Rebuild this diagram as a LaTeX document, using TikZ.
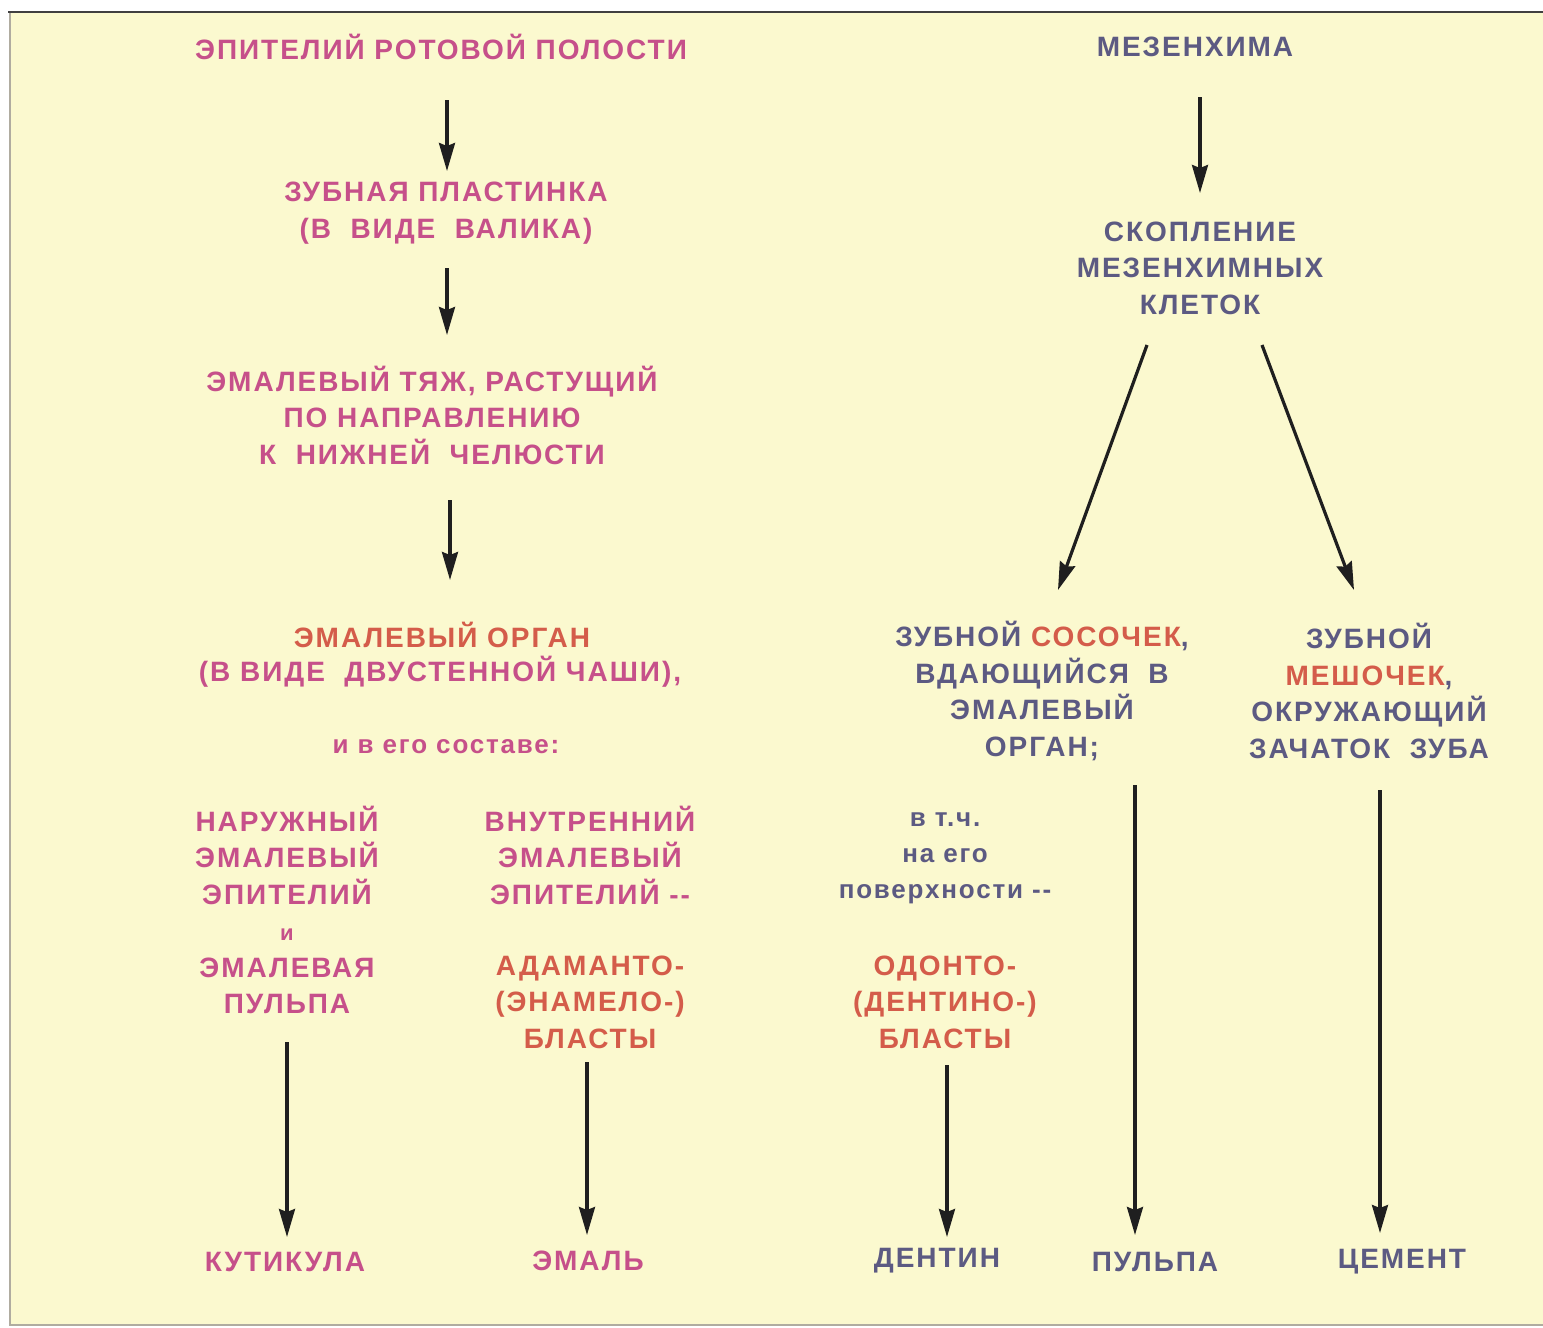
\documentclass[tikz,border=0pt]{standalone}
\usepackage{fontspec}
\setmainfont{Liberation Sans}[LetterSpace=7]
\usetikzlibrary{arrows.meta}
\definecolor{bgyel}{RGB}{251,249,207}
\definecolor{pinktxt}{RGB}{198,80,138}
\definecolor{redtxt}{RGB}{212,92,74}
\definecolor{bluetxt}{RGB}{92,90,130}
\definecolor{framegray}{RGB}{176,172,160}
\tikzset{
  lbl/.style={font=\fontsize{28}{36.5}\selectfont\bfseries, align=center, inner sep=0pt, anchor=center},
  small/.style={font=\fontsize{26}{36}\selectfont\bfseries, align=center, inner sep=0pt, anchor=center},
  pk/.style={text=pinktxt},
  rd/.style={text=redtxt},
  bl/.style={text=bluetxt},
  arr/.style={draw=black!88, line width=3.2pt, -{Stealth[length=28pt,width=16pt,inset=3pt]}}
}
\begin{document}
\begin{tikzpicture}[x=1pt,y=-1pt]
\useasboundingbox (0,0) rectangle (1543,1328);
\fill[white] (0,0) rectangle (1543,1328);
\fill[bgyel] (10,12) rectangle (1543,1325);
\draw[framegray, line width=2pt] (10,12) -- (10,1325) -- (1543,1325);
\draw[black!75, line width=2.5pt] (8,12) -- (1543,12);

% left column
\node[lbl,pk] (epi) at (441,47) {ЭПИТЕЛИЙ РОТОВОЙ ПОЛОСТИ};
\node[lbl,pk] (plast) at (446,213) {ЗУБНАЯ ПЛАСТИНКА\\(В\ \ ВИДЕ\ \ ВАЛИКА)};
\node[lbl,pk] (tyazh) at (432,415) {ЭМАЛЕВЫЙ ТЯЖ, РАСТУЩИЙ\\ПО НАПРАВЛЕНИЮ\\К\ \ НИЖНЕЙ\ \ ЧЕЛЮСТИ};
\node[lbl,rd] (organ1) at (442,635) {ЭМАЛЕВЫЙ ОРГАН};
\node[lbl,pk] (organ2) at (440,672) {(В ВИДЕ\ \ ДВУСТЕННОЙ ЧАШИ),};
\node[small,pk] (sost) at (446,747) {и в его составе:};

\node[lbl,pk] (nar) at (287,910) {НАРУЖНЫЙ\\ЭМАЛЕВЫЙ\\ЭПИТЕЛИЙ\\{\fontsize{22}{36}\selectfont и}\\ЭМАЛЕВАЯ\\ПУЛЬПА};
\node[lbl,pk] (vnut) at (590,855) {ВНУТРЕННИЙ\\ЭМАЛЕВЫЙ\\ЭПИТЕЛИЙ -{}-};
\node[lbl,rd] (adam) at (590,1002) {АДАМАНТО-\\(ЭНАМЕЛО-)\\БЛАСТЫ};

\node[lbl,pk] (kut) at (285,1262) {КУТИКУЛА};
\node[lbl,pk] (emal) at (588,1261) {ЭМАЛЬ};

% right column
\node[lbl,bl] (mez) at (1195,47) {МЕЗЕНХИМА};
\node[lbl,bl] (skop) at (1200,268) {СКОПЛЕНИЕ\\МЕЗЕНХИМНЫХ\\КЛЕТОК};
\node[lbl,bl] (sos) at (1042,691) {ЗУБНОЙ \textcolor{redtxt}{СОСОЧЕК},\\ВДАЮЩИЙСЯ\ \ В\\ЭМАЛЕВЫЙ\\ОРГАН;};
\node[lbl,bl] (mesh) at (1369,691) {ЗУБНОЙ\\\textcolor{redtxt}{МЕШОЧЕК},\\ОКРУЖАЮЩИЙ\\ЗАЧАТОК\ \ ЗУБА};
\node[small,bl] (vtch) at (945,858) {в т.ч.\\на его\\поверхности -{}-};
\node[lbl,rd] (odon) at (945,1002) {ОДОНТО-\\(ДЕНТИНО-)\\БЛАСТЫ};

\node[lbl,bl] (dent) at (937,1261) {ДЕНТИН};
\node[lbl,bl] (pulp) at (1155,1262) {ПУЛЬПА};
\node[lbl,bl] (cem) at (1402,1262) {ЦЕМЕНТ};

% arrow end points
\coordinate (a1s) at (447,100); \coordinate (a1e) at (447,171);
\coordinate (a2s) at (447,268); \coordinate (a2e) at (447,335);
\coordinate (a3s) at (450,500); \coordinate (a3e) at (450,580);
\coordinate (b1s) at (287,1042); \coordinate (b1e) at (287,1237);
\coordinate (b2s) at (587,1062); \coordinate (b2e) at (587,1235);
\coordinate (m1s) at (1200,97); \coordinate (m1e) at (1200,193);
\coordinate (d1s) at (1147,345); \coordinate (d1e) at (1058,590);
\coordinate (d2s) at (1262,345); \coordinate (d2e) at (1354,590);
\coordinate (c1s) at (947,1065); \coordinate (c1e) at (947,1237);
\coordinate (c2s) at (1135,785); \coordinate (c2e) at (1135,1235);
\coordinate (c3s) at (1380,790); \coordinate (c3e) at (1380,1233);

\draw[arr] (a1s) -- (a1e);
\draw[arr] (a2s) -- (a2e);
\draw[arr] (a3s) -- (a3e);
\draw[arr] (b1s) -- (b1e);
\draw[arr] (b2s) -- (b2e);
\draw[arr] (m1s) -- (m1e);
\draw[arr] (d1s) -- (d1e);
\draw[arr] (d2s) -- (d2e);
\draw[arr] (c1s) -- (c1e);
\draw[arr] (c2s) -- (c2e);
\draw[arr] (c3s) -- (c3e);
\end{tikzpicture}
\end{document}
